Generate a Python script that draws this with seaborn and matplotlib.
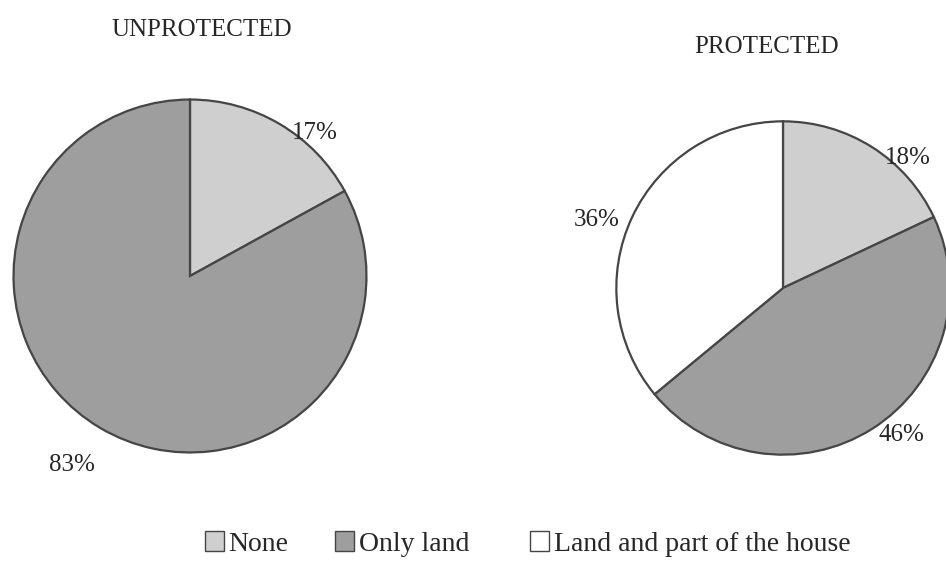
import matplotlib
matplotlib.use("Agg")
import matplotlib.pyplot as plt
from matplotlib.patches import Patch
import seaborn as sns

# Shares of households by what was lost, for unprotected and protected areas
categories = ["None", "Only land", "Land and part of the house"]
unprotected = [17, 83, 0]
protected = [18, 46, 36]
panel_titles = ["UNPROTECTED", "PROTECTED"]

sns.set_theme(style="white")
plt.rcParams["font.family"] = ["Liberation Serif", "DejaVu Serif"]

fills = ["#cfcfcf", "#9e9e9e", "#ffffff"]
edge = "#454545"
ink = "#262626"

W, H = 946, 571
fig = plt.figure(figsize=(W / 100, H / 100), dpi=100)
fig.patch.set_facecolor("white")


def pie_axes(cx, cy, r):
    # axes box in pixel units (origin top-left) around a pie of radius r
    return fig.add_axes([(cx - r) / W, (H - cy - r) / H, 2 * r / W, 2 * r / H])


def draw_pie(ax, values, label_pos):
    vals = [v for v in values if v > 0]
    cols = [c for v, c in zip(values, fills) if v > 0]
    ax.pie(vals, colors=cols, startangle=90, counterclock=False, radius=1.0,
           wedgeprops=dict(edgecolor=edge, linewidth=1.6))
    for v, (x, y) in zip(vals, label_pos):
        ax.text(x, y, f"{v}%", ha="center", va="center", fontsize=18,
                color=ink, clip_on=False)
    ax.set_xlim(-1.02, 1.02)
    ax.set_ylim(-1.02, 1.02)
    ax.set_aspect("equal")
    ax.axis("off")


ax1 = pie_axes(190, 276, 180)
draw_pie(ax1, unprotected, [(0.71, 0.81), (-0.67, -1.07)])

ax2 = pie_axes(783, 288, 170)
draw_pie(ax2, protected, [(0.75, 0.78), (0.71, -0.88), (-1.12, 0.41)])

fig.text(202 / W, 1 - 30 / H, panel_titles[0], ha="center", va="center",
         fontsize=18, color=ink)
fig.text(767 / W, 1 - 47 / H, panel_titles[1], ha="center", va="center",
         fontsize=18, color=ink)

# one legend entry per category, each anchored at its own left edge
legend_left = [205, 335, 530]
for cat, col, x0 in zip(categories, fills, legend_left):
    leg = fig.legend([Patch(facecolor=col, edgecolor=edge, linewidth=1.0)],
                     [cat], loc="center left",
                     bbox_to_anchor=(x0 / W, 1 - 544 / H), frameon=False,
                     fontsize=20, labelcolor=ink, handlelength=0.7,
                     handleheight=0.7, handletextpad=0.15, borderpad=0,
                     borderaxespad=0)

fig.savefig("out.png", dpi=100, facecolor="white")
